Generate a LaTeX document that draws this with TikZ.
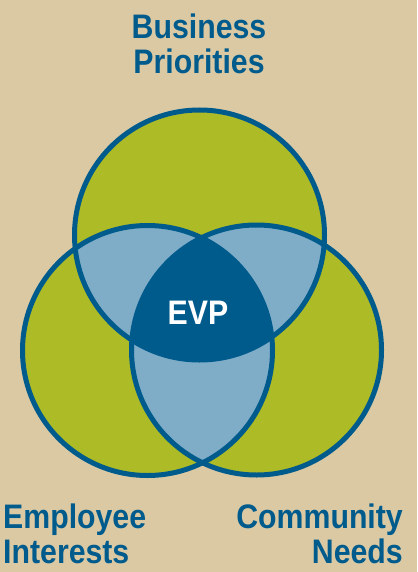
\documentclass[tikz,border=0pt]{standalone}
\usepackage{fontspec}
\setmainfont{Liberation Sans}[FakeStretch=0.89]

\definecolor{sand}{HTML}{DBC9A3}
\definecolor{lime}{HTML}{ADBB26}
\definecolor{sky}{HTML}{7FADC8}
\definecolor{navy}{HTML}{005B8D}

\tikzset{
	ring/.style={draw=navy, line width=5pt},
	venntitle/.style={text=navy, font=\bfseries\fontsize{34}{35}\selectfont, inner sep=0pt},
}

\begin{document}
\begin{tikzpicture}[x=1pt, y=-1pt]
	% Background and circle centres
	\fill[sand] (0,0) rectangle (417,572);
	\coordinate (bp) at (199.5,235);
	\coordinate (ei) at (147.5,350.5);
	\coordinate (cn) at (256.5,350);

	% Fill the three discs and their overlaps
	\fill[lime] (bp) circle[radius=125] (ei) circle[radius=125] (cn) circle[radius=125];
	\begin{scope}
		\clip (bp) circle[radius=125];
		\fill[sky] (ei) circle[radius=125] (cn) circle[radius=125];
	\end{scope}
	\begin{scope}
		\clip (ei) circle[radius=125];
		\fill[sky] (cn) circle[radius=125];
	\end{scope}
	\begin{scope}
		\clip (bp) circle[radius=125];
		\clip (ei) circle[radius=125];
		\fill[navy] (cn) circle[radius=125];
	\end{scope}

	% Outlines
	\draw[ring] (bp) circle[radius=125];
	\draw[ring] (ei) circle[radius=125];
	\draw[ring] (cn) circle[radius=125];

	% Labels
	\node[venntitle, text=white, anchor=base] (evp) at (198,324) {EVP};
	\node[venntitle, align=center, anchor=north] (business) at (199,14) {Business\\Priorities};
	\node[venntitle, align=left, anchor=north west] (employee) at (3,504) {Employee\\Interests};
	\node[venntitle, align=right, anchor=north east] (community) at (403,504) {Community\\Needs};
\end{tikzpicture}
\end{document}
